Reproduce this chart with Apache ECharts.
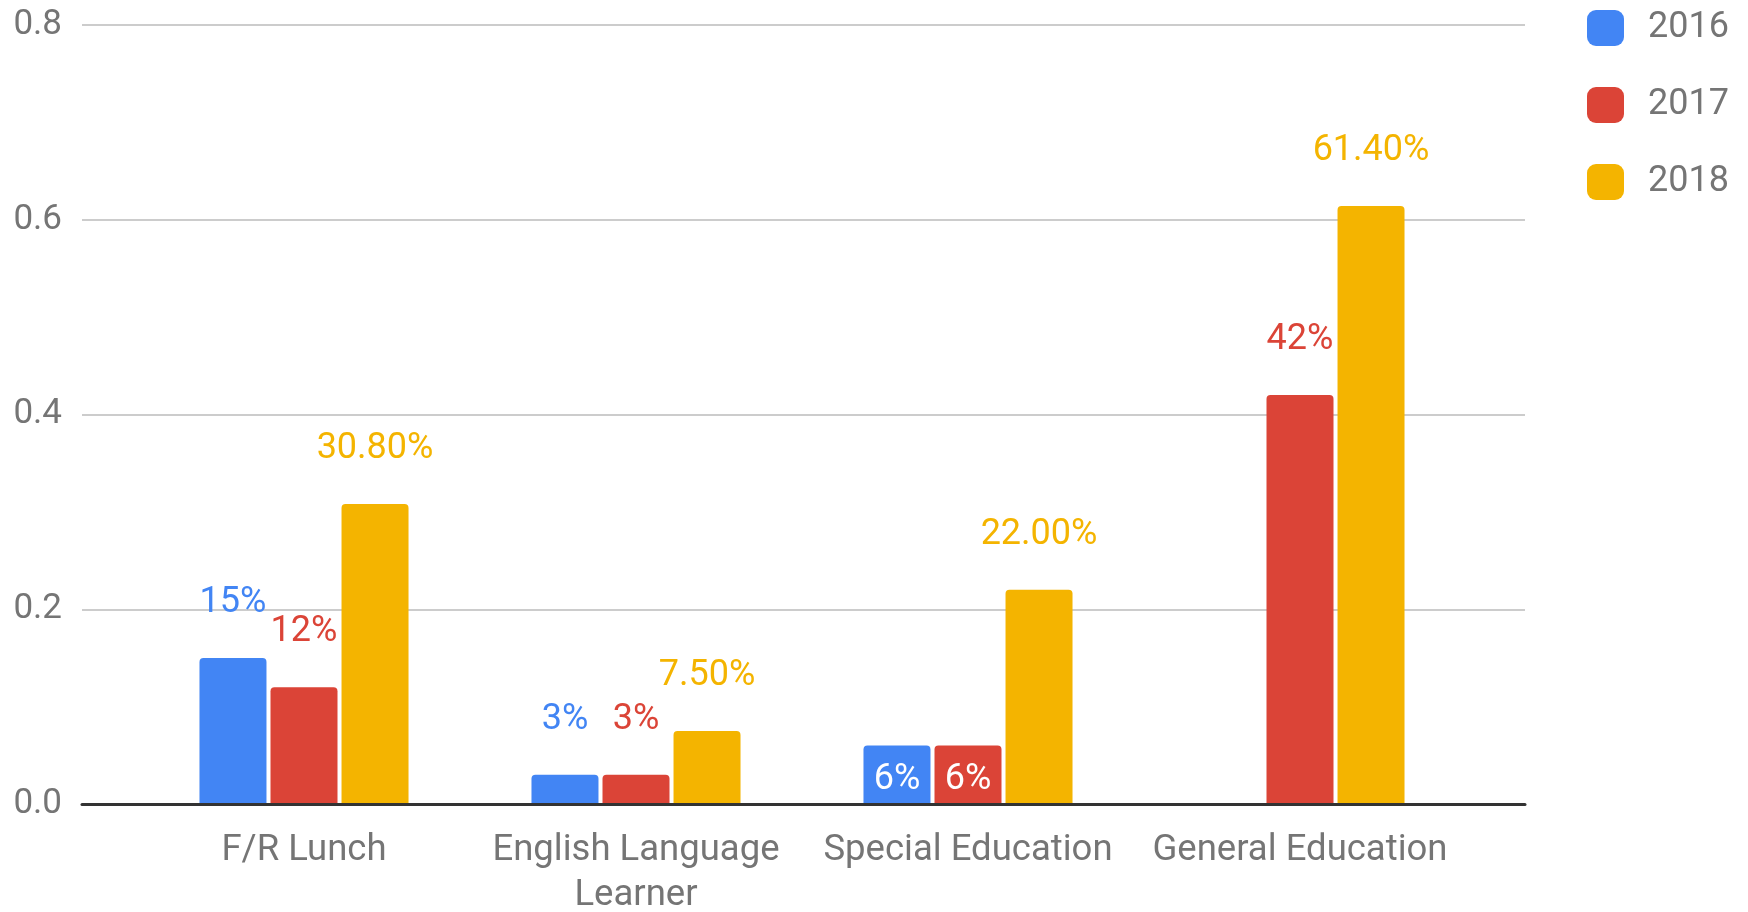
<!DOCTYPE html>
<html>
<head>
<meta charset="utf-8">
<script src="https://cdn.jsdelivr.net/npm/echarts@6/dist/echarts.min.js"></script>
<style>
html,body{margin:0;padding:0;background:#fff;}
#chart{width:1748px;height:912px;}
</style>
</head>
<body>
<div id="chart"></div>
<script>
const categories = ['F/R Lunch', 'English Language\nLearner', 'Special Education', 'General Education'];
const seriesNames = ['2016', '2017', '2018'];
const values2016 = [0.15, 0.03, 0.06, null];
const values2017 = [0.12, 0.03, 0.06, 0.42];
const values2018 = [0.308, 0.075, 0.22, 0.614];
const yMin = 0, yMax = 0.8, yInterval = 0.2;

const colors = ['#4285F4', '#DB4437', '#F4B400'];
const FONT = 'Roboto';
const GRAY = '#757575';

function fmtInt(v) { return Math.round(v * 100) + '%'; }
function fmtDec(v) { return (v * 100).toFixed(2) + '%'; }

function buildData(values, insideCats) {
  return values.map((v, i) => {
    if (v !== null && insideCats.indexOf(categories[i]) >= 0) {
      return { value: v, label: { position: 'inside', color: '#ffffff', distance: 0, offset: [0, 5] } };
    }
    return v;
  });
}

const insideCats = ['Special Education'];
const allValues = [values2016, values2017, values2018];

const series = allValues.map((vals, si) => ({
  name: seriesNames[si],
  type: 'bar',
  xAxisIndex: 1,
  yAxisIndex: 1,
  barWidth: 67,
  barGap: '6%',
  data: si < 2 ? buildData(vals, insideCats) : vals,
  itemStyle: { color: colors[si], borderRadius: [4, 4, 0, 0] },
  label: {
    show: true,
    position: 'top',
    distance: 37,
    color: colors[si],
    fontFamily: FONT,
    fontSize: 36,
    formatter: p => (p.value === null || p.value === undefined) ? '' : (si < 2 ? fmtInt(p.value) : fmtDec(p.value))
  }
}));

const chart = echarts.init(document.getElementById('chart'), null, { renderer: 'canvas' });
chart.setOption({
  animation: false,
  backgroundColor: '#ffffff',
  textStyle: { fontFamily: FONT },
  legend: {
    orient: 'vertical',
    left: 1587,
    top: 10,
    padding: 0,
    itemWidth: 37,
    itemHeight: 36,
    itemGap: 41,
    icon: 'roundRect',
    data: seriesNames,
    textStyle: { fontFamily: FONT, fontSize: 36, color: GRAY, padding: [0, 0, 0, 19] }
  },
  grid: [
    { left: 82, right: 223, top: 25, bottom: 108, containLabel: false, outerBoundsMode: 'none' },
    { left: 138, right: 282, top: 25, bottom: 108, containLabel: false, outerBoundsMode: 'none' }
  ],
  xAxis: [
    {
      gridIndex: 0, type: 'value', min: 0, max: 1, z: 5,
      axisLine: { show: true, lineStyle: { color: '#333333', width: 3 } },
      axisTick: { show: false }, axisLabel: { show: false }, splitLine: { show: false }
    },
    {
      gridIndex: 1, type: 'category', data: categories,
      axisLine: { show: false }, axisTick: { show: false }, splitLine: { show: false },
      axisLabel: { fontFamily: FONT, fontSize: 36.5, color: GRAY, margin: 24, lineHeight: 45, interval: 0, align: 'center' }
    }
  ],
  yAxis: [
    {
      gridIndex: 0, type: 'value', min: yMin, max: yMax, interval: yInterval,
      axisLine: { show: false }, axisTick: { show: false },
      axisLabel: { fontFamily: FONT, fontSize: 35, color: GRAY, margin: 20, formatter: v => v.toFixed(1) },
      splitLine: { show: true, lineStyle: { color: '#cccccc', width: 2 } }
    },
    {
      gridIndex: 1, type: 'value', min: yMin, max: yMax, interval: yInterval, show: false,
      splitLine: { show: false }
    }
  ],
  series: series
});
</script>
</body>
</html>
